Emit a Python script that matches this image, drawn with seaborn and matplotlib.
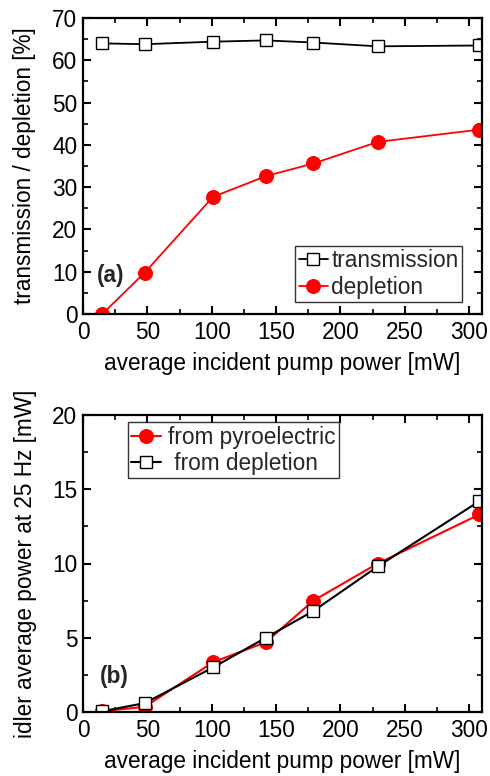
import numpy as np
import pandas as pd
import matplotlib
matplotlib.use("Agg")
import matplotlib.pyplot as plt
import seaborn as sns
from matplotlib.ticker import MultipleLocator

# Data
pump_power = [15, 48, 101, 142, 179, 229, 308]
transmission = [64.0, 63.8, 64.4, 64.7, 64.2, 63.3, 63.5]
depletion = [0.0, 9.8, 27.7, 32.6, 35.6, 40.7, 43.6]
idler_pyro = [0.05, 0.35, 3.35, 4.7, 7.5, 10.0, 13.3]
idler_depl = [0.05, 0.6, 3.0, 5.0, 6.8, 9.8, 14.2]

sns.set_theme(style="white")
plt.rcParams['font.family'] = ['Liberation Sans', 'DejaVu Sans']

fig = plt.figure(figsize=(4.9, 7.76), dpi=100)
ax1 = fig.add_axes([83/490, 1-314/776, (482-83)/490, (314-18)/776])
ax2 = fig.add_axes([83/490, 1-712/776, (482-83)/490, (712-415)/776])

dfa = pd.DataFrame({"x": pump_power, "transmission": transmission, "depletion": depletion})
dfb = pd.DataFrame({"x": pump_power, "pyro": idler_pyro, "depl": idler_depl})

sq = dict(marker="s", markersize=9, markerfacecolor="white", markeredgecolor="black", markeredgewidth=1.0)
ci = dict(marker="o", markersize=10, markerfacecolor="red", markeredgecolor="red")

sns.lineplot(data=dfa, x="x", y="transmission", ax=ax1, color="black", lw=1.3, label="transmission", **sq)
sns.lineplot(data=dfa, x="x", y="depletion", ax=ax1, color="red", lw=1.3, label="depletion", **ci)

sns.lineplot(data=dfb, x="x", y="pyro", ax=ax2, color="red", lw=1.5, label="from pyroelectric", **ci)
sns.lineplot(data=dfb, x="x", y="depl", ax=ax2, color="black", lw=1.5, label=" from depletion", **sq)

FS = 16.3
for ax, ylim, ymaj, ymin in [(ax1, (0, 70), 10, 5), (ax2, (0, 20), 5, 2.5)]:
    ax.set_xlim(0, 310)
    ax.set_ylim(*ylim)
    ax.xaxis.set_major_locator(MultipleLocator(50))
    ax.xaxis.set_minor_locator(MultipleLocator(25))
    ax.yaxis.set_major_locator(MultipleLocator(ymaj))
    ax.yaxis.set_minor_locator(MultipleLocator(ymin))
    ax.tick_params(which="both", direction="in", top=True, right=True, bottom=True, left=True,
                   labelsize=FS, colors="black")
    ax.tick_params(which="major", length=6, width=1.5)
    ax.tick_params(which="minor", length=3.5, width=1.2)
    ax.tick_params(axis="x", pad=5)
    ax.tick_params(axis="y", pad=4)
    for s in ax.spines.values():
        s.set_color("black")
        s.set_linewidth(1.6)
        s.set_visible(True)
    ax.set_xlabel("average incident pump power [mW]", fontsize=FS, labelpad=6, color="black")
    ax.set_facecolor("white")

ax1.set_ylabel("transmission / depletion [%]", fontsize=FS, labelpad=12, color="black")
ax2.set_ylabel("idler average power at 25 Hz [mW]", fontsize=FS, labelpad=11, color="black")

leg1 = ax1.legend(loc="lower right", bbox_to_anchor=(0.95, 0.04), fontsize=FS, frameon=True, fancybox=False,
                  handlelength=1.3, handletextpad=0.15, borderpad=0.15, labelspacing=0.15, borderaxespad=0)
leg1.get_frame().set_edgecolor("black")
leg1.get_frame().set_linewidth(1.0)
leg2 = ax2.legend(loc="upper left", bbox_to_anchor=(0.113, 0.976), fontsize=FS, frameon=True, fancybox=False,
                  handlelength=1.3, handletextpad=0.3, borderpad=0.15, labelspacing=0.15, borderaxespad=0)
leg2.get_frame().set_edgecolor("black")
leg2.get_frame().set_linewidth(1.0)

ax1.text(0.035, 0.13, "(a)", transform=ax1.transAxes, fontsize=FS, fontweight="bold", ha="left", va="center")
ax2.text(0.043, 0.118, "(b)", transform=ax2.transAxes, fontsize=FS, fontweight="bold", ha="left", va="center")

fig.savefig("out.png", dpi=100, facecolor="white")
